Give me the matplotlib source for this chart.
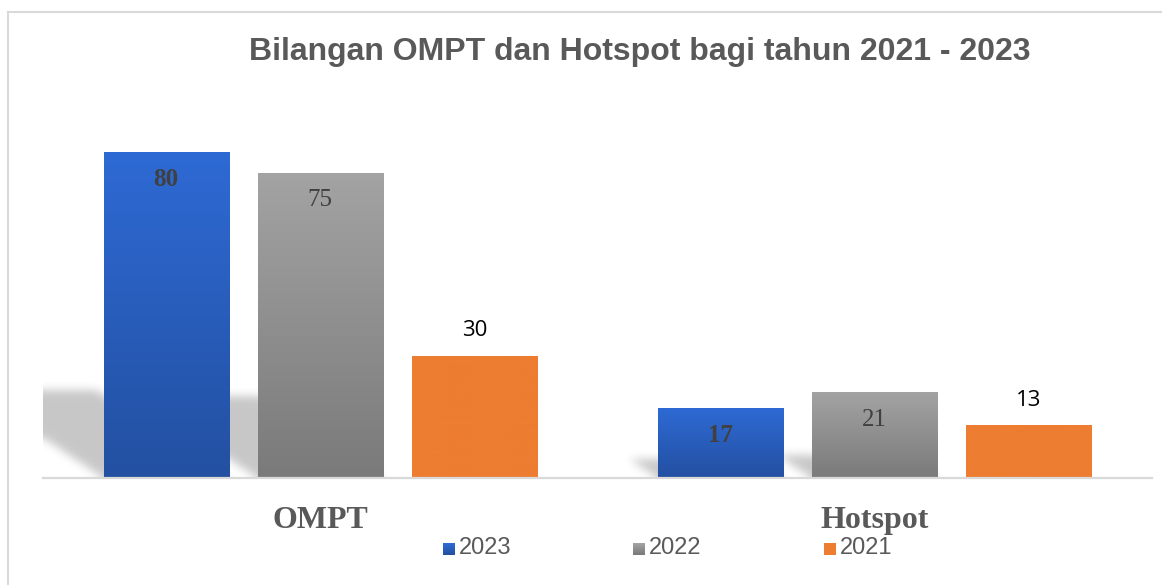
import numpy as np
import matplotlib
matplotlib.use("Agg")
import matplotlib.pyplot as plt
from matplotlib.lines import Line2D

# ---- data ----
categories = ["OMPT", "Hotspot"]
series_names = ["2023", "2022", "2021"]
values_2023 = [80, 17]
values_2022 = [75, 21]
values_2021 = [30, 13]
title_text = "Bilangan OMPT dan Hotspot bagi tahun 2021 - 2023"

series_values = [values_2023, values_2022, values_2021]

# ---- styling ----
W, H = 1162, 585
DPI = 100
grad_colors = {
    "2023": ("#2350A1", "#2E6AD4"),   # (bottom, top)
    "2022": ("#7A7A7A", "#A3A3A3"),
    "2021": ("#ED7D31", "#ED7D31"),
}
label_styles = [
    dict(family="Liberation Serif", weight="bold", color="#404040", size=18, inside=True),
    dict(family="Liberation Serif", weight="normal", color="#404040", size=18, inside=True),
    dict(family="Open Sans", weight="normal", color="#000000", size=16, inside=False),
]
has_shadow = [True, True, False]
bar_width = 0.2256
bar_step = 0.278
YMAX = 90

fig = plt.figure(figsize=(W / DPI, H / DPI), dpi=DPI)
fig.patch.set_facecolor("white")
ax_left, ax_bottom, ax_w, ax_h = 43, 107, 1109, 366
ax = fig.add_axes([ax_left / W, ax_bottom / H, ax_w / W, ax_h / H])
ax.set_xlim(-0.5, 1.5)
ax.set_ylim(0, YMAX)
ax.axis("off")

x_centers = np.arange(len(categories))
offsets = (np.arange(len(series_names)) - 1) * bar_step


def hex_rgb(h):
    h = h.lstrip("#")
    return np.array([int(h[i:i + 2], 16) / 255 for i in (0, 2, 4)])


def gaussian_blur(img, sigma):
    r = int(3 * sigma)
    t = np.arange(-r, r + 1)
    k = np.exp(-t ** 2 / (2 * sigma ** 2))
    k /= k.sum()
    pad = np.pad(img, r, mode="edge")
    tmp = np.apply_along_axis(lambda m: np.convolve(m, k, mode="valid"), 1, pad)
    out = np.apply_along_axis(lambda m: np.convolve(m, k, mode="valid"), 0, tmp)
    return out


# ---- soft perspective shadows behind the bars ----
nx, ny = ax_w, ax_h
xs = -0.5 + (np.arange(nx) + 0.5) / nx * 2.0
ys = (np.arange(ny) + 0.5) / ny * YMAX
XX, YY = np.meshgrid(xs, ys)
mask = np.zeros((ny, nx))
skew = 1.5 * (ax_h / YMAX) / (ax_w / 2.0)  # x-units per y-unit
for s, vals in enumerate(series_values):
    if not has_shadow[s]:
        continue
    for c, v in enumerate(vals):
        x0 = x_centers[c] + offsets[s] - bar_width / 2
        x1 = x0 + bar_width
        hs = 0.27 * v
        inside = (YY <= hs) & (XX >= x0 - skew * YY) & (XX <= x1 - skew * YY)
        mask[inside] = 1.0
mask = gaussian_blur(mask, 4.5)
mask[0, :] = mask[1, :]
shadow = np.zeros((ny, nx, 4))
shadow[..., 3] = 0.22 * np.clip(mask, 0, 1)
ax.imshow(shadow, extent=[-0.5, 1.5, 0, YMAX], origin="lower",
          aspect="auto", zorder=1, interpolation="bilinear")

# ---- gradient bars ----
for s, (name, vals) in enumerate(zip(series_names, series_values)):
    bot, top = (hex_rgb(c) for c in grad_colors[name])
    t = np.linspace(0, 1, 256)[:, None, None]
    grad = bot * (1 - t) + top * t
    bars = ax.bar(x_centers + offsets[s], vals, width=bar_width,
                  color="none", edgecolor="none", zorder=2)
    for rect in bars:
        x0 = rect.get_x()
        ax.imshow(grad, extent=[x0, x0 + rect.get_width(), 0, rect.get_height()],
                  origin="lower", aspect="auto", zorder=2, interpolation="bilinear")
    st = label_styles[s]
    for xc, v in zip(x_centers + offsets[s], vals):
        dy = -27 if st["inside"] else 25
        ax.annotate(f"{v}", xy=(xc, v), xytext=(0, dy * 0.72),
                    textcoords="offset points", ha="center", va="center",
                    fontsize=st["size"], fontweight=st["weight"],
                    family=st["family"], color=st["color"], zorder=4)

ax.set_xlim(-0.5, 1.5)
ax.set_ylim(0, YMAX)

# baseline
ax.axhline(0, color="#D9D9D9", lw=1.6, zorder=3, clip_on=False)

# category labels
for xc, cat in zip(x_centers, categories):
    ax.text(xc, (57 - ax_bottom) / ax_h, cat, transform=ax.get_xaxis_transform(),
            ha="center", va="baseline", fontsize=23, fontweight="bold",
            family="Liberation Serif", color="#595959")

# title
fig.text(640 / W, 1 - 60 / H, title_text, ha="center", va="baseline",
         fontsize=23, fontweight="bold", family="Liberation Sans", color="#595959")

# legend
leg_x = [443, 633, 824]
for name, lx in zip(series_names, leg_x):
    bot, top = (hex_rgb(c) for c in grad_colors[name])
    t = np.linspace(1, 0, 12)[:, None, None]
    sq = np.broadcast_to(bot * (1 - t) + top * t, (12, 12, 3)).copy()
    fig.figimage(sq, xo=lx, yo=H - 555, origin="upper", zorder=5)
    fig.text((lx + 16) / W, 1 - 548 / H, name, ha="left", va="center",
             fontsize=17, family="Liberation Sans", color="#595959")

# chart frame
frame_kw = dict(color="#D9D9D9", lw=1.5, transform=fig.transFigure)
fig.add_artist(Line2D([7.5 / W, 7.5 / W], [0, 1 - 11.5 / H], **frame_kw))
fig.add_artist(Line2D([7.5 / W, 1], [1 - 11.5 / H, 1 - 11.5 / H], **frame_kw))

fig.savefig("out.png", dpi=DPI, facecolor="white")
